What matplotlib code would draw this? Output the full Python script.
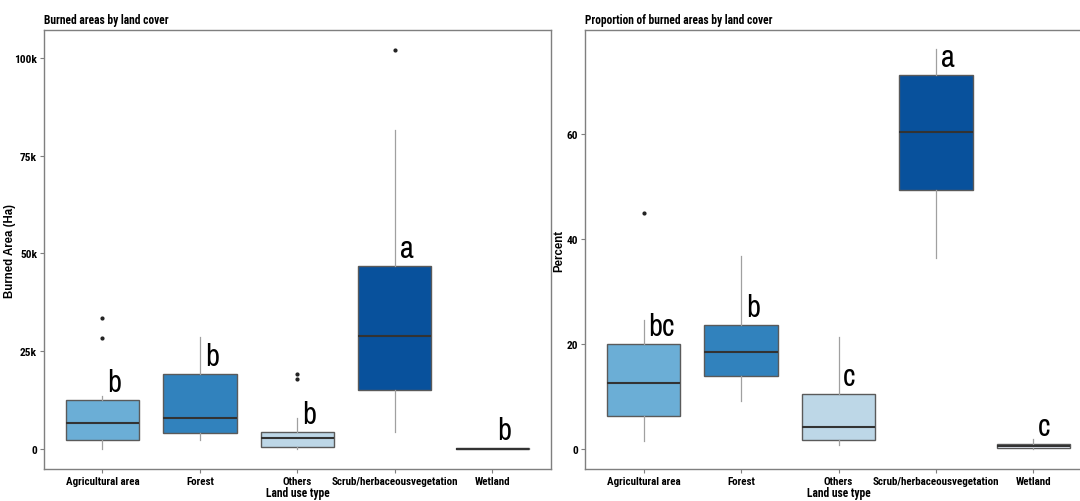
import matplotlib as mpl
import matplotlib.pyplot as plt

plt.rcParams['font.family'] = ['Roboto Condensed', 'Archivo Narrow', 'DejaVu Sans']

cats = ["Agricultural area", "Forest", "Others", "Scrub/herbaceousvegetation", "Wetland"]
colors = ["#6BAED6", "#3182BD", "#BDD7E7", "#08519C", "#EFF3FF"]

# burned area (Ha): whislo, q1, med, q3, whishi, outliers
area_lo = [0, 2300, 0, 4300, 0]
area_q1 = [2300, 4100, 500, 15000, 0]
area_med = [6600, 7900, 2800, 28800, 50]
area_q3 = [12500, 19100, 4300, 46700, 150]
area_hi = [13500, 28600, 7900, 81600, 250]
area_out = [[28500, 33500], [], [17900, 19100], [102000], []]
area_letters = ["b", "b", "b", "a", "b"]

# proportion (%)
pct_lo = [1.5, 9.1, 0.8, 36.4, 0.1]
pct_q1 = [6.3, 13.9, 1.7, 49.3, 0.2]
pct_med = [12.6, 18.5, 4.2, 60.4, 0.5]
pct_q3 = [20.0, 23.6, 10.5, 71.2, 1.0]
pct_hi = [24.6, 36.8, 21.3, 76.2, 1.9]
pct_out = [[45.0], [], [], [], []]
pct_letters = ["bc", "b", "c", "a", "c"]


def panel(ax, lo, q1, med, q3, hi, out, letters, title, ylabel, yticks, yticklabels, ylim, labx):
    stats = []
    for i in range(len(cats)):
        stats.append(dict(whislo=lo[i], q1=q1[i], med=med[i], q3=q3[i], whishi=hi[i], fliers=out[i]))
    bp = ax.bxp(stats, positions=range(len(cats)), widths=0.75, patch_artist=True,
                showcaps=False,
                boxprops=dict(edgecolor="#5a5a5a", linewidth=1.0),
                medianprops=dict(color="#333333", linewidth=1.5),
                whiskerprops=dict(color="#a0a0a0", linewidth=0.9),
                flierprops=dict(marker="o", markersize=2.0, markerfacecolor="#222222",
                                markeredgecolor="#222222", linestyle="none"))
    for patch, c in zip(bp["boxes"], colors):
        patch.set_facecolor(c)
    for i, lab in enumerate(letters):
        ax.annotate(lab, (i, q3[i]), xytext=(3.5, 3), textcoords="offset points",
                    ha="left", va="bottom", fontsize=22, family=["Archivo Narrow", "DejaVu Sans"])
    ax.set_xlim(-0.6, 4.6)
    ax.set_ylim(*ylim)
    ax.set_xticks(range(len(cats)))
    ax.set_xticklabels(cats, fontsize=7.9, fontweight="bold")
    ax.set_yticks(yticks)
    ax.set_yticklabels(yticklabels, fontsize=8.2, fontweight="bold")
    ax.tick_params(length=3, color="#7f7f7f", pad=2)
    for s in ax.spines.values():
        s.set_color("#7f7f7f")
        s.set_linewidth(1.0)
    ax.set_title(title, loc="left", fontsize=8.3, fontweight="bold", pad=5)
    ax.set_ylabel(ylabel, fontsize=8.3, fontweight="bold", family=["Liberation Sans", "DejaVu Sans"])
    ax.yaxis.set_label_coords(labx, 0.5)
    ax.set_xlabel("Land use type", fontsize=8.3, fontweight="bold", labelpad=0)


fig = plt.figure(figsize=(10.8, 5.02), dpi=100)
ax1 = fig.add_axes([0.0407, 0.0637, 0.4694, 0.8745])
ax2 = fig.add_axes([0.5417, 0.0637, 0.4694, 0.8745])

panel(ax1, area_lo, area_q1, area_med, area_q3, area_hi, area_out, area_letters,
      "Burned areas by land cover", "Burned Area (Ha)",
      [0, 25000, 50000, 75000, 100000], ["0", "25k", "50k", "75k", "100k"], (-5100, 107100), -0.055)
panel(ax2, pct_lo, pct_q1, pct_med, pct_q3, pct_hi, pct_out, pct_letters,
      "Proportion of burned areas by land cover", "Percent",
      [0, 20, 40, 60], ["0", "20", "40", "60"], (-3.8, 79.8), -0.04)

fig.savefig("out.png", dpi=100)
